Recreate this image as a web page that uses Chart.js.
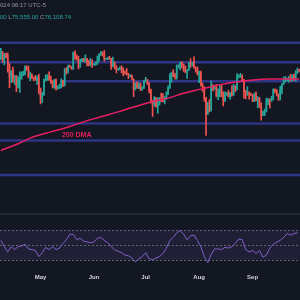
<!DOCTYPE html>
<html>
<head>
<meta charset="utf-8">
<script src="https://cdn.jsdelivr.net/npm/chart.js@4.4.1/dist/chart.umd.min.js"></script>
<style>
  html, body { margin: 0; padding: 0; background: #131722; }
  #wrap { position: relative; width: 300px; height: 300px; overflow: hidden; background: #131722; }
  #wrap canvas { position: absolute; left: 0; top: 0; }
  .hdr { position: absolute; left: 0; font: 6px "Liberation Sans", Arial, sans-serif; white-space: nowrap; color: #9598a1; }
  .g { color: #26a69a; }
  #pane { position: absolute; left: 0; top: 213px; width: 300px; height: 2px; background: #222631; }
</style>
</head>
<body>
<div id="wrap">
  <canvas id="c" width="300" height="300"></canvas>
  <div id="pane"></div>
  <div class="hdr" style="top:2px">024 06:17 UTC-5</div>
  <div class="hdr" style="top:14px"><span class="g">00</span> L<span class="g">75,555.00</span> C<span class="g">76,108.74</span></div>
</div>
<script>
// daily candles, BTC in thousands, first day 2024-04-08
var startDay = '2024-04-08';
var firstOpen = 69.4;
var closes = [
  71.6, 69.1, 70.6, 70.0, 67.1, 63.9, 65.7, 63.4, 63.8, 61.3, 63.5, 63.8, 64.9, 64.9, 66.8, 66.4, 64.3, 64.5, 63.8, 63.4, 63.1, 63.8, 60.6,
  58.2, 59.1, 62.9, 63.9, 64.0, 63.2, 62.3, 61.2, 63.1, 60.8, 60.8, 61.5, 62.9, 61.6, 66.3, 65.2, 67.0, 66.9, 66.3, 71.4, 70.1, 69.1, 67.9, 68.5, 69.3, 68.5, 69.4, 68.3, 67.6, 68.4, 67.5,
  67.8, 67.8, 68.8, 70.6, 71.1, 70.8, 69.3, 69.3, 69.6, 69.5, 67.3, 68.2, 66.8, 66.0, 66.2, 66.6, 66.5, 65.1, 64.9, 64.8, 64.1, 64.2, 63.2, 60.3, 61.8, 60.9, 61.6, 60.3, 60.9, 62.7,
  62.8, 62.0, 60.2, 57.0, 56.7, 58.2, 55.9, 56.7, 58.0, 57.7, 57.3, 57.9, 59.2, 60.8, 64.8, 65.1, 64.1, 63.9, 66.7, 67.2, 68.2, 67.6, 65.9, 65.4, 65.8, 68.0, 67.9, 68.3, 66.8, 66.2, 64.6,
  65.4, 61.5, 60.7, 58.1, 54.0, 56.0, 55.1, 61.7, 60.9, 60.9, 58.7, 59.4, 60.6, 58.7, 57.6, 58.9, 59.5, 58.4, 59.5, 59.0, 61.2, 60.4, 64.1, 64.2, 64.2, 62.9, 59.5, 59.0, 59.4, 59.1, 58.9,
  57.3, 59.1, 57.5, 58.0, 56.2, 53.9, 54.2, 54.9, 57.0, 57.6, 57.3, 58.1, 60.5, 60.0, 59.1, 58.2, 60.3, 61.8, 62.9, 63.2, 63.3, 63.6, 63.3, 64.3, 63.1, 65.2, 65.9, 65.8
];
var highs = [
  72.7, 71.7, 71.1, 71.2, 71.2, 67.9, 65.8, 66.8, 64.4, 64.4, 64.0, 65.4, 65.4, 65.6, 67.2, 67.2, 67.1, 65.3, 64.8, 63.9, 64.3, 64.2, 64.7,
  60.8, 59.6, 63.3, 64.5, 64.6, 65.4, 64.2, 62.9, 63.2, 63.4, 61.4, 61.8, 63.4, 63.0, 66.4, 66.7, 67.4, 67.4, 67.0, 71.5, 71.9, 70.6, 70.1, 69.2, 69.5, 69.5, 70.6, 69.5, 68.9, 69.5, 69.0,
  67.9, 68.4, 70.2, 71.0, 71.7, 71.6, 72.0, 69.5, 69.9, 70.1, 69.5, 69.9, 68.4, 67.3, 66.4, 66.9, 67.2, 66.6, 65.7, 66.4, 65.0, 64.5, 64.5, 63.4, 62.3, 62.5, 62.3, 62.2, 61.2, 63.0,
  63.8, 63.2, 62.3, 60.5, 57.5, 58.5, 58.3, 58.2, 58.3, 59.4, 59.3, 58.5, 59.8, 61.4, 64.9, 65.3, 66.1, 65.0, 67.4, 67.6, 68.3, 68.5, 67.8, 67.1, 66.1, 68.2, 69.4, 68.3, 70.0, 66.9, 66.8,
  65.6, 65.6, 62.2, 61.1, 58.3, 57.0, 57.7, 62.7, 61.7, 61.4, 61.8, 60.6, 61.5, 61.8, 59.8, 59.8, 59.6, 60.2, 59.6, 61.4, 61.8, 61.4, 64.9, 64.5, 65.0, 64.5, 63.2, 60.2, 61.2, 59.8, 59.4,
  59.1, 59.4, 59.8, 58.5, 58.3, 56.9, 54.8, 55.3, 58.1, 58.0, 57.9, 58.6, 60.6, 60.6, 60.4, 59.2, 61.3, 62.0, 63.9, 64.1, 63.6, 64.0, 64.7, 64.5, 64.8, 65.8, 66.5, 66.2
];
var lows = [
  69.1, 68.2, 67.5, 69.6, 65.3, 60.9, 62.3, 62.4, 61.8, 59.8, 60.8, 59.6, 63.2, 64.3, 64.5, 65.8, 63.6, 62.8, 63.4, 62.8, 62.9, 61.8, 59.2,
  56.6, 56.9, 58.8, 62.7, 62.9, 62.9, 62.1, 60.8, 60.7, 60.2, 60.5, 60.6, 60.8, 61.2, 61.4, 64.7, 65.1, 66.7, 66.1, 66.1, 69.2, 68.9, 66.3, 66.7, 68.5, 68.5, 68.3, 67.2, 67.2, 67.2, 66.7,
  67.4, 67.3, 67.6, 68.6, 70.4, 70.2, 68.6, 69.2, 69.1, 69.2, 66.1, 66.9, 66.3, 65.1, 65.9, 66.0, 65.1, 64.2, 64.7, 64.5, 63.4, 63.9, 63.2, 58.5, 60.3, 60.7, 60.6, 60.1, 60.2, 60.7,
  62.5, 61.8, 59.5, 56.8, 53.5, 56.0, 55.8, 54.3, 56.3, 57.2, 57.1, 56.6, 57.8, 59.0, 60.7, 62.4, 64.0, 63.3, 63.3, 66.6, 66.0, 66.6, 65.5, 65.1, 63.5, 65.8, 66.7, 67.1, 66.5, 65.3, 64.5,
  62.3, 61.3, 59.9, 57.3, 49.1, 54.0, 54.6, 54.8, 60.0, 60.4, 58.4, 57.7, 58.5, 58.4, 56.1, 57.2, 58.8, 58.4, 57.8, 58.6, 58.8, 59.8, 60.3, 63.6, 63.8, 62.8, 58.1, 57.9, 58.8, 57.8, 58.8,
  57.2, 57.2, 57.4, 55.6, 55.7, 52.6, 53.7, 53.7, 54.6, 56.4, 55.6, 57.3, 57.6, 59.5, 58.7, 57.5, 57.6, 59.2, 61.8, 62.4, 62.8, 62.4, 62.7, 62.7, 62.9, 62.7, 64.9, 65.4
];

// 200 DMA (day index -> value)
var dmaDays = [0, 10, 19, 29, 39, 48, 58, 68, 77, 87, 97, 106, 116, 126, 135, 145, 155, 164, 173];
var dma200 = [45.9, 47.3, 48.8, 49.9, 51.0, 52.2, 53.4, 54.6, 55.8, 57.1, 58.1, 59.4, 60.5, 61.6, 62.4, 63.0, 63.3, 63.3, 63.3];

// RSI, one value every 2 days
var rsi = [
  56, 48, 41, 48, 44, 48, 49, 51, 45, 44, 43, 35, 40, 47, 44, 48, 44, 46, 52, 57,
  64, 64, 57, 59, 55, 54, 53, 54, 59, 60, 56, 53, 48, 44, 42, 40, 37, 36, 33, 28,
  32, 35, 40, 32, 31, 33, 35, 39, 46, 56, 60, 66, 69, 64, 57, 62, 63, 56, 48, 35,
  27, 38, 45, 45, 44, 47, 46, 48, 52, 58, 57, 44, 41, 43, 39, 43, 34, 37, 46, 51,
  54, 56, 60, 65, 63, 65, 66
];
var rsiLevels = [70, 50, 30];

// horizontal support / resistance levels
var levels = [74.6, 68.3, 62.7, 51.8, 48.0, 41.1];
var levelFrom = [0, 0, 36, 0, 0, 0];

var monthNames = { '05': 'May', '06': 'Jun', '07': 'Jul', '08': 'Aug', '09': 'Sep' };

// ------------------------------------------------
var labels = [];
var t0 = new Date(startDay + 'T00:00:00Z').getTime();
for (var i = 0; i < closes.length; i++) {
  labels.push(new Date(t0 + i * 86400000).toISOString().slice(0, 10));
}
var opens = closes.map(function (c, i) { return i ? closes[i - 1] : firstOpen; });
var upCol = '#26a69a', dnCol = '#ef5350';
var candleCol = closes.map(function (c, i) { return c >= opens[i] ? upCol : dnCol; });

var guides = {
  id: 'guides',
  beforeDatasetsDraw: function (chart) {
    var ctx = chart.ctx, a = chart.chartArea, x = chart.scales.x, y = chart.scales.y, y2 = chart.scales.y2;
    ctx.save();
    // rsi band
    var top = y2.getPixelForValue(rsiLevels[0]), bot = y2.getPixelForValue(rsiLevels[2]);
    ctx.fillStyle = 'rgba(126,87,194,0.12)';
    ctx.fillRect(a.left, top, a.right - a.left, bot - top);
    ctx.strokeStyle = 'rgba(120,123,134,0.75)';
    ctx.lineWidth = 1;
    ctx.setLineDash([2, 2]);
    rsiLevels.forEach(function (v) {
      var py = Math.round(y2.getPixelForValue(v)) + 0.5;
      ctx.beginPath(); ctx.moveTo(a.left, py); ctx.lineTo(a.right, py); ctx.stroke();
    });
    ctx.setLineDash([]);
    // price levels
    ctx.strokeStyle = '#2e3585';
    ctx.lineWidth = 2.5;
    levels.forEach(function (v, k) {
      var py = y.getPixelForValue(v);
      var px = levelFrom[k] ? x.getPixelForValue(levelFrom[k]) : a.left;
      ctx.beginPath(); ctx.moveTo(px, py); ctx.lineTo(a.right, py); ctx.stroke();
    });
    ctx.restore();
  },
  afterDatasetsDraw: function (chart) {
    var ctx = chart.ctx, x = chart.scales.x, y = chart.scales.y;
    ctx.save();
    ctx.fillStyle = '#e91e63';
    ctx.font = 'bold 7px "Liberation Sans", Arial, sans-serif';
    ctx.textAlign = 'center';
    ctx.textBaseline = 'middle';
    ctx.fillText('200 DMA', x.getPixelForValue(44), y.getPixelForValue(49.3));
    ctx.restore();
  }
};

new Chart(document.getElementById('c').getContext('2d'), {
  type: 'bar',
  data: {
    labels: labels,
    datasets: [
      {
        type: 'line', label: '200 DMA', yAxisID: 'y', order: 0,
        data: dmaDays.map(function (d, k) { return { x: labels[d], y: dma200[k] }; }),
        borderColor: '#e91e63', borderWidth: 1.5, pointRadius: 0, tension: 0.4
      },
      {
        type: 'line', label: 'RSI', yAxisID: 'y2', order: 0,
        data: rsi.map(function (v, k) { return { x: labels[k * 2], y: v }; }),
        borderColor: '#8462c8', borderWidth: 1, pointRadius: 0, tension: 0
      },
      {
        label: 'body', yAxisID: 'y', order: 1, grouped: false,
        data: closes.map(function (c, k) { return [opens[k], c]; }),
        backgroundColor: candleCol, barPercentage: 0.85, categoryPercentage: 1, minBarLength: 1
      },
      {
        label: 'wick', yAxisID: 'y', order: 2, grouped: false,
        data: closes.map(function (c, k) { return [lows[k], highs[k]]; }),
        backgroundColor: candleCol, barThickness: 1
      }
    ]
  },
  options: {
    responsive: false,
    animation: false,
    devicePixelRatio: 1,
    layout: { padding: { left: 0, right: 0, top: 0, bottom: 12 } },
    plugins: { legend: { display: false }, tooltip: { enabled: false } },
    scales: {
      x: {
        grid: { display: false, drawTicks: false }, border: { display: false },
        ticks: {
          color: '#d1d4dc', font: { size: 6, weight: '600', family: '"Liberation Sans", Arial, sans-serif' },
          padding: 7, autoSkip: false, maxRotation: 0, minRotation: 0,
          callback: function (v, idx) {
            var l = labels[idx];
            return l.slice(8) === '01' && monthNames[l.slice(5, 7)] ? monthNames[l.slice(5, 7)] : null;
          }
        }
      },
      y: { type: 'logarithmic', display: false, bounds: 'data', min: 27.17, max: 90.4 },
      y2: { type: 'linear', display: false, min: 21.6, max: 370 }
    }
  },
  plugins: [guides]
});
</script>
</body>
</html>
